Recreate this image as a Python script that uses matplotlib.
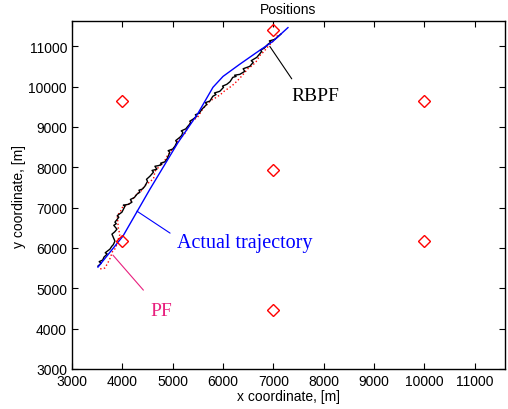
import matplotlib
matplotlib.use("Agg")
import matplotlib.pyplot as plt

# Landmarks (red diamonds)
lm_x = [4000, 7000, 10000, 7000, 4000, 10000, 7000]
lm_y = [9650, 11400, 9650, 7920, 6180, 6180, 4460]

# Actual trajectory
true_x = [3516, 4012, 4548, 5100, 5500, 5800, 6000, 6330, 6670, 6990, 7290]
true_y = [5525, 6292, 7455, 8600, 9330, 9980, 10250, 10550, 10846, 11118, 11460]

# RBPF estimate
rbpf_x = [3516, 3580, 3540, 3610, 3635, 3700, 3660, 3754, 3790, 3820, 3853, 3794, 3850,
          3893, 3830, 3880, 3853, 3930, 3900, 3992, 4052, 4020, 4120, 4190, 4160, 4240,
          4290, 4349, 4330, 4400, 4448, 4500, 4480, 4548, 4620, 4590, 4686, 4647, 4720,
          4786, 4760, 4840, 4885, 4944, 4910, 5000, 5044, 5083, 5060, 5143, 5180, 5202,
          5170, 5260, 5301, 5360, 5340, 5401, 5480, 5450, 5530, 5579, 5678, 5650, 5740,
          5797, 5860, 5830, 5936, 6010, 5990, 6075, 6140, 6194, 6260, 6230, 6333, 6432,
          6400, 6531, 6600, 6560, 6670, 6770, 6740, 6820, 6889, 6950, 6920, 7028, 7150]
rbpf_y = [5549, 5620, 5660, 5700, 5772, 5850, 5880, 5970, 6040, 6080, 6168, 6341, 6400,
          6465, 6560, 6600, 6638, 6760, 6800, 6886, 7034, 7060, 7080, 7133, 7200, 7250,
          7331, 7381, 7430, 7460, 7529, 7650, 7700, 7777, 7880, 7920, 7950, 8024, 8040,
          8074, 8100, 8130, 8198, 8371, 8410, 8450, 8519, 8618, 8660, 8742, 8790, 8866,
          8900, 8950, 9014, 9100, 9140, 9188, 9262, 9300, 9340, 9435, 9559, 9600, 9640,
          9757, 9800, 9840, 9881, 9980, 10010, 10054, 10120, 10227, 10250, 10280, 10301,
          10376, 10440, 10499, 10600, 10640, 10722, 10871, 10900, 10950, 11044, 11100,
          11130, 11168, 11300]

# PF estimate
pf_x = [3560, 3650, 3700, 3760, 3800, 3870, 3900, 3950, 3920, 3900, 3960, 4000, 4080,
        4150, 4230, 4300, 4380, 4450, 4560, 4620, 4650, 4720, 4800, 4860, 4900, 5000,
        5060, 5100, 5180, 5250, 5300, 5350, 5430, 5500, 5600, 5680, 5750, 5850, 5950,
        6020, 6100, 6180, 6250, 6330, 6400, 6500, 6560, 6650, 6750, 6800, 6900, 6980,
        7050, 7100]
pf_y = [5480, 5500, 5600, 5750, 5900, 6000, 6150, 6330, 6500, 6800, 6900, 7000, 7060,
        7100, 7250, 7350, 7420, 7550, 7650, 7720, 7900, 8000, 8100, 8200, 8300, 8450,
        8520, 8650, 8750, 8850, 8980, 9100, 9180, 9250, 9450, 9550, 9650, 9720, 9800,
        9880, 9950, 10020, 10100, 10200, 10300, 10450, 10500, 10600, 10800, 10850,
        11000, 11100, 11200, 11300]

x_ticks = [3000, 4000, 5000, 6000, 7000, 8000, 9000, 10000, 11000]
y_ticks = [3000, 4000, 5000, 6000, 7000, 8000, 9000, 10000, 11000]

plt.rcParams['font.family'] = ['Liberation Sans', 'DejaVu Sans']

fig = plt.figure(figsize=(5.08, 4.10), dpi=100)
ax = fig.add_axes([0.1417, 0.0976, 0.8523, 0.8484])

ax.plot(pf_x, pf_y, color='red', linestyle=':', linewidth=1.0)
ax.plot(rbpf_x, rbpf_y, color='black', linewidth=1.0)
ax.plot(true_x, true_y, color='blue', linewidth=1.0)
ax.plot(lm_x, lm_y, linestyle='none', marker='D', markersize=6,
        markerfacecolor='none', markeredgecolor='red', markeredgewidth=1.0)

ax.set_xlim(3000, 11600)
ax.set_ylim(3000, 11620)
ax.set_xticks(x_ticks)
ax.set_yticks(y_ticks)
ax.tick_params(direction='in', top=True, right=True, length=4, labelsize=10, width=0.8)
for s in ax.spines.values():
    s.set_linewidth(1.0)

ax.set_title('Positions', fontsize=10, pad=6)
ax.set_xlabel('x coordinate, [m]', fontsize=10, labelpad=1)
ax.set_ylabel('y coordinate, [m]', fontsize=10, labelpad=2)

serif = ['Liberation Serif', 'DejaVu Serif']
pink = '#e8207e'
ax.annotate('RBPF', xy=(6929, 10995), xytext=(7365, 9658), fontsize=14, family=serif,
            color='black', ha='left', va='baseline',
            arrowprops=dict(arrowstyle='-', color='black', lw=0.8, shrinkA=0, shrinkB=0,
                            relpos=(0.0, 1.5)))
ax.annotate('Actual trajectory', xy=(4290, 6911), xytext=(5083, 6020), fontsize=14.5,
            family=serif, color='blue', ha='left', va='baseline',
            arrowprops=dict(arrowstyle='-', color='blue', lw=0.8, shrinkA=0, shrinkB=0,
                            relpos=(-0.05, 1.0)))
ax.annotate('PF', xy=(3813, 5822), xytext=(4548, 4337), fontsize=14, family=serif,
            color=pink, ha='left', va='baseline',
            arrowprops=dict(arrowstyle='-', color=pink, lw=0.8, shrinkA=0, shrinkB=0,
                            relpos=(-0.3, 1.7)))

fig.savefig('out.png', dpi=100)
